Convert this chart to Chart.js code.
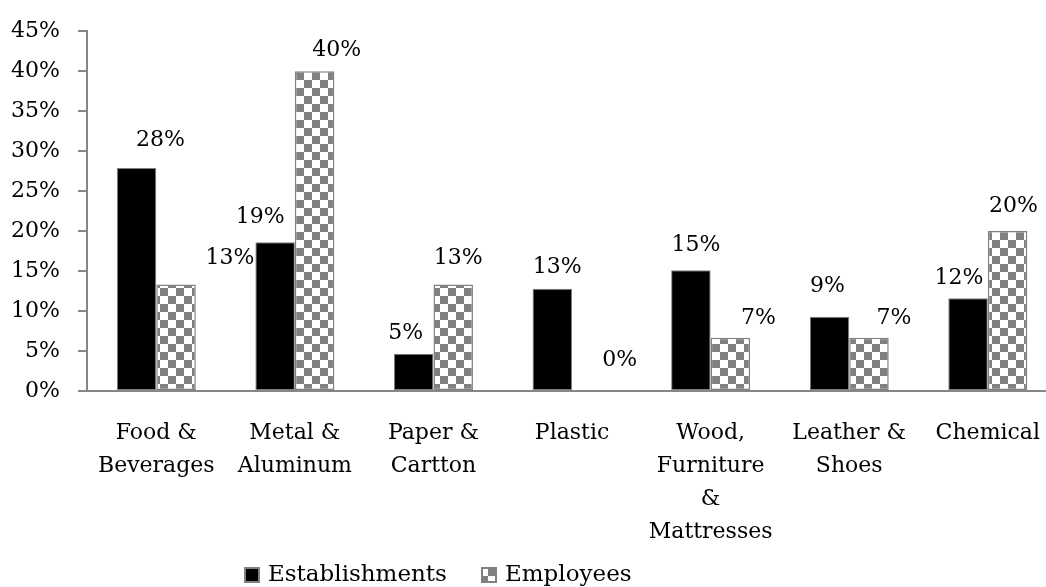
<!DOCTYPE html>
<html>
<head>
<meta charset="utf-8">
<script src="https://cdn.jsdelivr.net/npm/chart.js@4.4.1/dist/chart.umd.min.js"></script>
<style>
  html, body { margin: 0; padding: 0; background: #fff; overflow: hidden; }
  #wrap { position: relative; width: 1058px; height: 587px; }
</style>
</head>
<body>
<div id="wrap"><canvas id="chart"></canvas></div>
<script>
// share of establishments and employees per industry (percent)
const categories = [
  ['Food &', 'Beverages'],
  ['Metal &', 'Aluminum'],
  ['Paper &', 'Cartton'],
  ['Plastic'],
  ['Wood,', 'Furniture', '&', 'Mattresses'],
  ['Leather &', 'Shoes'],
  ['Chemical']
];
const establishments = [27.9, 18.6, 4.65, 12.8, 15.1, 9.3, 11.6];
const employees = [13.33, 40, 13.33, 0, 6.67, 6.67, 20];
const seriesNames = ['Establishments', 'Employees'];

// hand-nudged value labels [dx, dy] relative to the top of each bar
const estLabelShift = [[24, -28], [-15, -25], [-8, -21], [5, -21], [5, -25], [-2, -30], [-9, -20]];
const empLabelShift = [[54, -26], [22, -21], [5, -26], [28, -31], [28, -19], [25, -19], [6, -25]];

const FONT = 'DejaVu Serif';
const AXIS_GREY = '#868686';

function checkerPattern(size) {
  const tile = document.createElement('canvas');
  tile.width = tile.height = size * 2;
  const t = tile.getContext('2d');
  t.fillStyle = '#ffffff';
  t.fillRect(0, 0, size * 2, size * 2);
  t.fillStyle = '#808080';
  t.fillRect(0, 0, size, size);
  t.fillRect(size, size, size, size);
  return t.createPattern(tile, 'repeat');
}
const checker = checkerPattern(8);

const valueLabels = {
  id: 'valueLabels',
  afterDatasetsDraw(chart) {
    const ctx = chart.ctx;
    const shifts = [estLabelShift, empLabelShift];
    ctx.save();
    ctx.font = '22px "' + FONT + '"';
    ctx.fillStyle = '#000';
    ctx.textAlign = 'center';
    ctx.textBaseline = 'middle';
    chart.data.datasets.forEach((ds, i) => {
      chart.getDatasetMeta(i).data.forEach((bar, j) => {
        const [dx, dy] = shifts[i][j];
        ctx.fillText(Math.round(ds.data[j]) + '%', bar.x + dx, bar.y + dy);
      });
    });
    ctx.restore();
  }
};

const bottomLegend = {
  id: 'bottomLegend',
  afterDraw(chart) {
    const ctx = chart.ctx;
    const items = [
      { x: 244, fill: '#000000' },
      { x: 481, fill: checker }
    ];
    ctx.save();
    ctx.font = '23px "' + FONT + '"';
    ctx.textBaseline = 'middle';
    items.forEach((it, i) => {
      ctx.fillStyle = it.fill;
      ctx.fillRect(it.x, 567, 16, 16);
      ctx.strokeStyle = '#808080';
      ctx.lineWidth = 2;
      ctx.strokeRect(it.x + 1, 568, 14, 14);
      ctx.fillStyle = '#000';
      ctx.fillText(seriesNames[i], it.x + 24, 575);
    });
    ctx.restore();
  }
};

Chart.defaults.font.family = FONT;
Chart.defaults.font.size = 22;
Chart.defaults.color = '#000';

new Chart(document.getElementById('chart'), {
  type: 'bar',
  data: {
    labels: categories,
    datasets: [
      {
        label: seriesNames[0],
        data: establishments,
        backgroundColor: '#000000',
        borderColor: '#808080',
        borderWidth: 1,
        borderSkipped: false
      },
      {
        label: seriesNames[1],
        data: employees,
        backgroundColor: checker,
        borderColor: '#808080',
        borderWidth: 1.5,
        borderSkipped: false
      }
    ]
  },
  options: {
    responsive: true,
    maintainAspectRatio: false,
    devicePixelRatio: 1,
    animation: false,
    layout: { padding: { top: 25, left: 0, right: 0, bottom: 0 } },
    datasets: {
      bar: { categoryPercentage: 0.57, barPercentage: 1.0 }
    },
    plugins: {
      legend: { display: false },
      tooltip: { enabled: false }
    },
    scales: {
      x: {
        grid: { display: false },
        border: { display: true, color: AXIS_GREY, width: 2 },
        ticks: {
          padding: 18,
          maxRotation: 0,
          autoSkip: false,
          font: { size: 22, lineHeight: 1.5 }
        },
        afterFit(scale) { scale.height = 196; }
      },
      y: {
        min: 0,
        max: 45,
        grid: {
          display: true,
          drawOnChartArea: false,
          drawTicks: true,
          tickLength: 9,
          color: AXIS_GREY,
          lineWidth: 2
        },
        border: { display: true, color: AXIS_GREY, width: 2 },
        ticks: {
          stepSize: 5,
          padding: 18,
          callback: v => v + '%'
        },
        afterFit(scale) { scale.width = 87; }
      }
    }
  },
  plugins: [valueLabels, bottomLegend]
});
</script>
</body>
</html>
